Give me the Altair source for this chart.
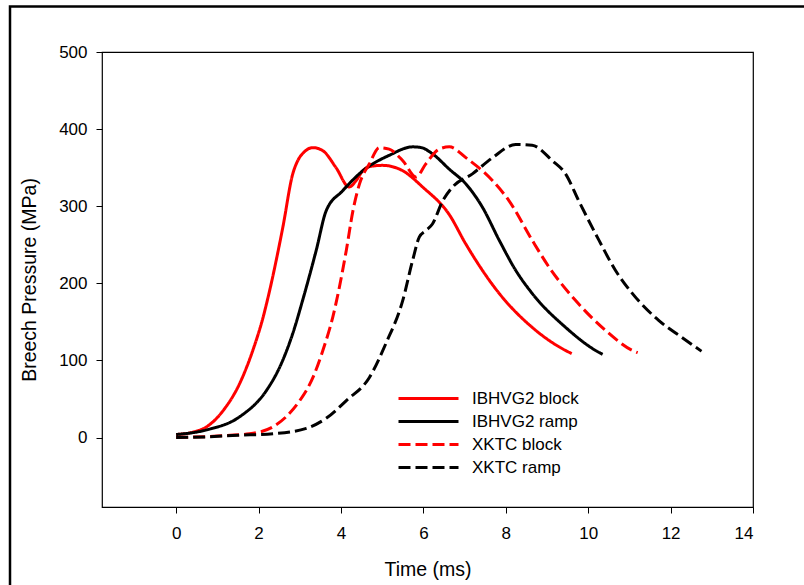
import altair as alt
import pandas as pd

series_names = ["IBHVG2 block", "IBHVG2 ramp", "XKTC block", "XKTC ramp"]
series_colors = ["#ff0000", "#000000", "#ff0000", "#000000"]
series_dash = [[1, 0], [1, 0], [12, 5], [12, 5]]

ib_block_t = [0, 0.4, 0.74, 1.14, 1.54, 1.86, 2.11, 2.27, 2.59, 2.83, 2.95, 3.1, 3.32, 3.56, 3.88, 4.2, 4.35, 4.53, 4.75, 5.01, 5.5, 5.98, 6.63, 7.03, 7.84, 8.64, 9.45, 9.6]
ib_block_p = [4, 7, 14, 35, 70, 113, 156, 191, 273, 342, 359, 370, 376, 372, 350, 325, 332, 346, 352, 353, 346, 325, 289, 251, 187, 143, 113, 109]

ib_ramp_t = [0, 0.74, 1.54, 2.19, 2.51, 2.83, 3.08, 3.4, 3.64, 4.04, 4.53, 5.17, 5.74, 5.95, 6.22, 6.63, 7.03, 7.43, 7.84, 8.24, 8.64, 9.45, 10.18, 10.35]
ib_ramp_p = [4, 10, 27, 61, 91, 135, 180, 243, 294, 320, 346, 366, 377, 376, 368, 348, 329, 299, 256, 217, 187, 143, 113, 108]

xk_block_t = [0, 1.0, 1.78, 2.35, 2.67, 3.0, 3.32, 3.56, 3.8, 4.13, 4.29, 4.45, 4.69, 4.93, 5.17, 5.5, 5.82, 6.06, 6.38, 6.63, 7.03, 7.68, 8.08, 8.64, 9.05, 9.69, 10.42, 11.07, 11.2]
xk_block_p = [0, 2, 5, 14, 27, 48, 78, 113, 156, 243, 294, 329, 355, 376, 374, 359, 338, 355, 374, 377, 363, 333, 307, 256, 221, 178, 139, 113, 110]

xk_ramp_t = [0, 0.74, 1.5, 2.35, 3.16, 3.64, 4.13, 4.69, 5.09, 5.5, 5.74, 5.9, 6.05, 6.22, 6.47, 6.71, 7.19, 7.68, 8.24, 8.64, 9.13, 9.45, 9.77, 10.26, 10.66, 11.07, 11.71, 12.27, 12.75]
xk_ramp_p = [0, 1, 3, 5, 12, 25, 48, 78, 122, 178, 230, 260, 268, 277, 307, 325, 342, 363, 380, 379, 359, 342, 307, 256, 217, 187, 152, 130, 112]

x_ticks = [0, 2, 4, 6, 8, 10, 12, 14]
y_ticks = [0, 100, 200, 300, 400, 500]

rows = []
for name, ts, ps in zip(series_names,
                        [ib_block_t, ib_ramp_t, xk_block_t, xk_ramp_t],
                        [ib_block_p, ib_ramp_p, xk_block_p, xk_ramp_p]):
    for t, p in zip(ts, ps):
        rows.append({"series": name, "t": t, "p": p})
df = pd.DataFrame(rows)

FONT = "Liberation Sans"

leg = alt.Legend(
    title=None, orient="none", legendX=315, legendY=335,
    symbolType="M-3,0H3", symbolSize=400, symbolStrokeWidth=3,
    labelFontSize=17, labelFont=FONT, labelColor="black",
    rowPadding=3, labelOffset=32, padding=0,
)

lines = alt.Chart(df).mark_line(strokeWidth=3, interpolate="monotone").encode(
    x=alt.X("t:Q", scale=alt.Scale(domain=[-1.8, 14], nice=False, zero=False),
            axis=alt.Axis(values=x_ticks, title="Time (ms)", labelPadding=12, titlePadding=19)),
    y=alt.Y("p:Q", scale=alt.Scale(domain=[-90, 500], nice=False, zero=False),
            axis=alt.Axis(values=y_ticks, title="Breech Pressure (MPa)", labelPadding=9, titlePadding=19)),
    color=alt.Color("series:N", scale=alt.Scale(domain=series_names, range=series_colors), legend=leg),
    strokeDash=alt.StrokeDash("series:N", scale=alt.Scale(domain=series_names, range=series_dash), legend=leg),
)

frame = alt.Chart(pd.DataFrame({"k": [0]})).mark_rect(filled=False, stroke="black", strokeWidth=2.5).encode(
    x=alt.value(-92), x2=alt.value(800), y=alt.value(-45.5), y2=alt.value(700)
)

chart = alt.layer(frame, lines).properties(
    width=651, height=455,
    padding={"left": 102, "top": 52, "right": 51, "bottom": 78},
    autosize=alt.AutoSizeParams(type="none"),
).configure_view(stroke="black", strokeWidth=1.2).configure_axis(
    domain=False, grid=False, tickColor="black", tickSize=6, tickWidth=1,
    labelFont=FONT, labelFontSize=17, labelColor="black",
    titleFont=FONT, titleFontSize=19.5, titleFontWeight="normal", titleColor="black",
)

chart.save("out.html", embed_options={"renderer": "svg", "actions": False})
